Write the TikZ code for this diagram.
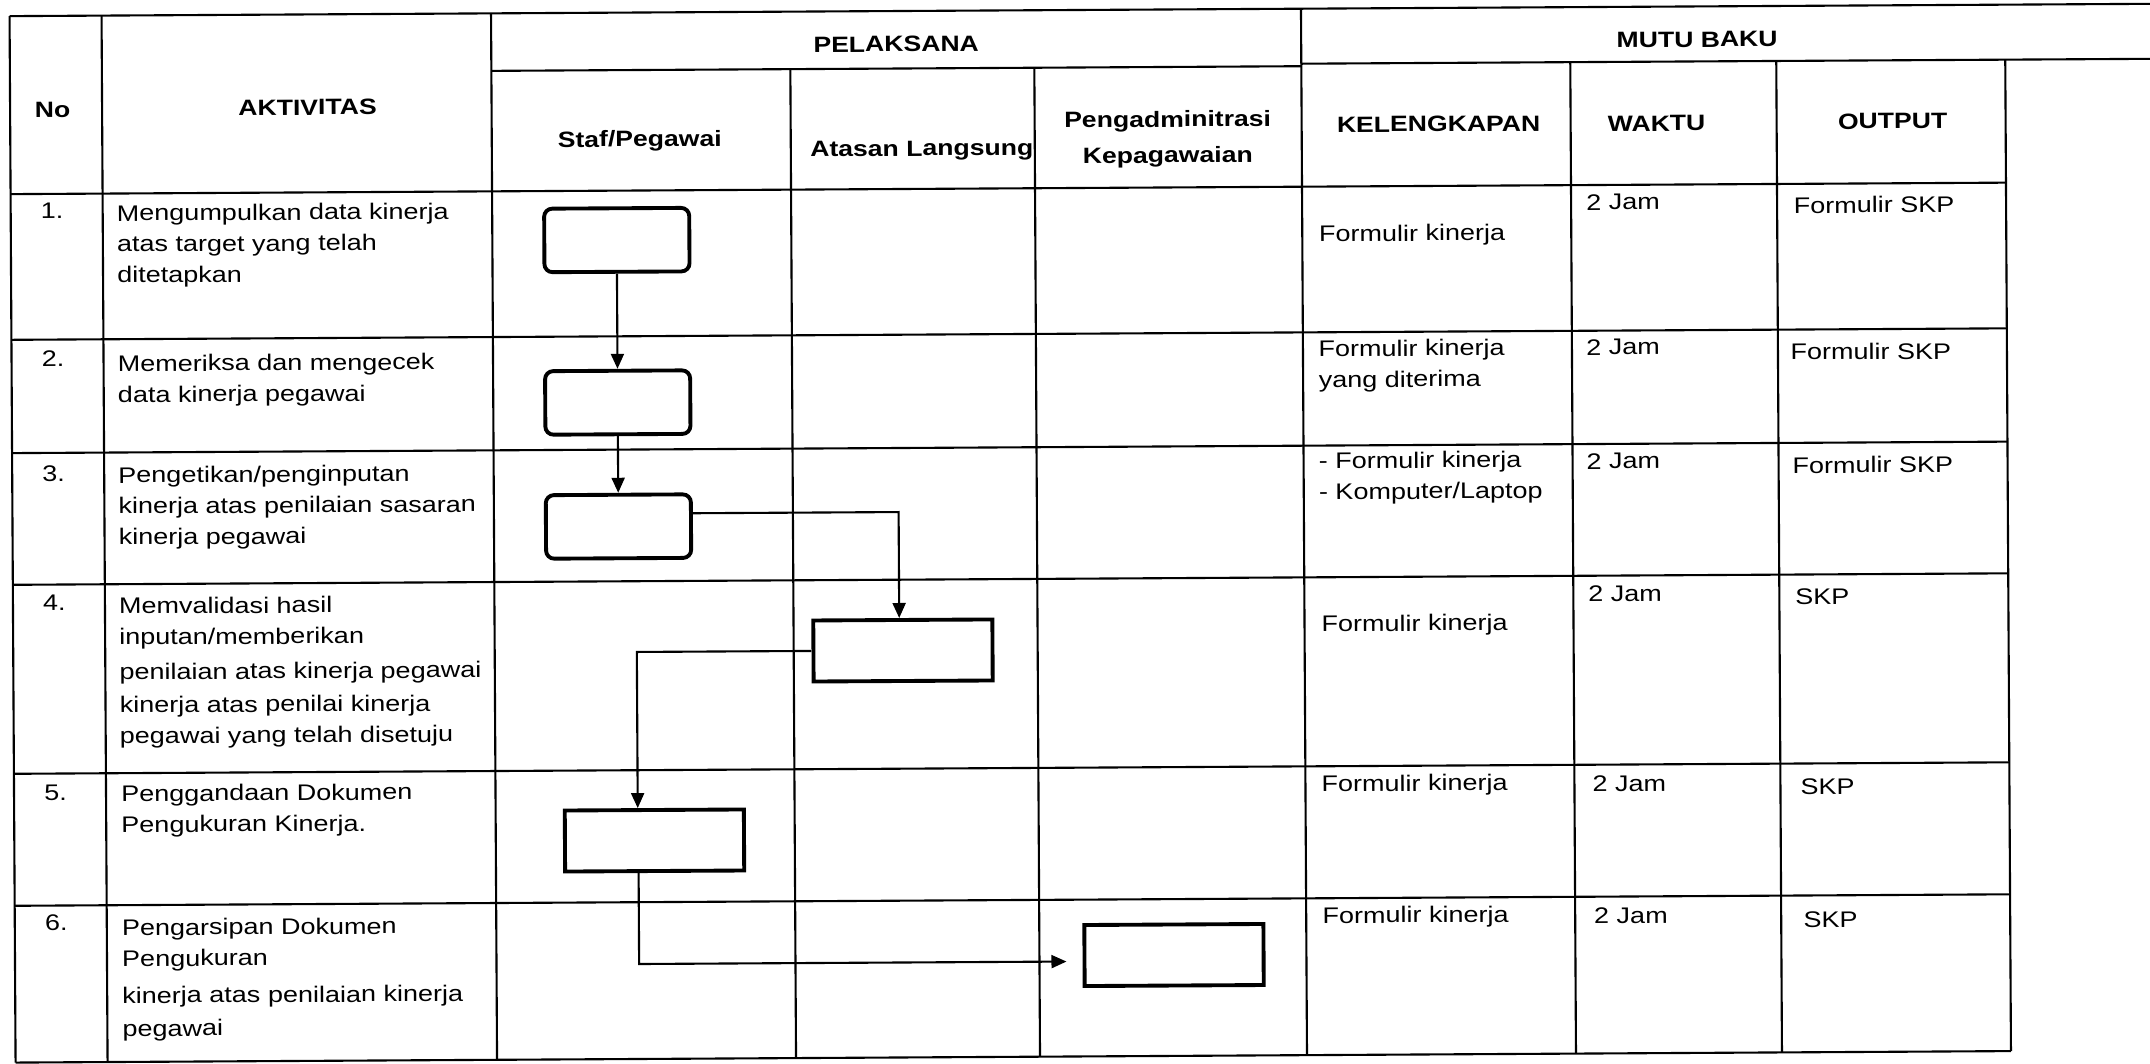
\documentclass[tikz,border=0pt]{standalone}
\usepackage{fontspec}
\setmainfont{Liberation Sans}[FakeStretch=1.2]
\usetikzlibrary{arrows.meta,calc}
\begin{document}
\begin{tikzpicture}[x=0.01cm,y=-0.01cm,
  tbl/.style={line width=0.6pt},
  conn/.style={line width=0.6pt,-{Triangle[length=0.15cm,width=0.13cm]}},
  rbox/.style={draw,line width=1.1pt,rounded corners=2.3pt,minimum width=1.45cm,minimum height=0.635cm,inner sep=0pt},
  sbox/.style={draw,line width=1.1pt,minimum width=1.79cm,minimum height=0.61cm,inner sep=0pt},
  hd/.style={font=\fontsize{6.3}{10.2}\selectfont\bfseries,inner sep=0pt,anchor=base},
  tx/.style={font=\fontsize{6.4}{8.8}\selectfont,inner sep=0pt,anchor=base west,text width=4.5cm,align=left},
  num/.style={font=\fontsize{6.4}{8.8}\selectfont,inner sep=0pt,anchor=base}]
\fill[white] (0,0) rectangle (2150,1064);
\useasboundingbox (0,0) rectangle (2150,1064);
\begin{scope}[rotate around={0.33:(1075,532)},transform shape]
% table lines
\draw[tbl] (12.5,10) -- (2160,10);
\draw[tbl] (494,67.5) -- (1304,67.5);
\draw[tbl] (1304,65) -- (2160,65);
\foreach \yy in {188,333.7,447,578.7,767.7,899.7,1056.5}
  \draw[tbl] (12.5,\yy) -- (2008,\yy);
\foreach \xx in {12.5,104.5,494,1304}
  \draw[tbl] (\xx,10) -- (\xx,1056.5);
\foreach \xx in {793,1037}
  \draw[tbl] (\xx,67.5) -- (\xx,1056.5);
\foreach \xx in {1573,1779,2008}
  \draw[tbl] (\xx,65) -- (\xx,1056.5);
% headers
\node[hd] (hno) at (55,111.5) {No};
\node[hd] (hakt) at (310,110.6) {AKTIVITAS};
\node[hd] (hpel) at (899,50.7) {PELAKSANA};
\node[hd] (hmutu) at (1700,50.6) {MUTU BAKU};
\node[hd] (hstaf) at (642,144.2) {Staf/Pegawai};
\node[hd] (hatas) at (924,155.1) {Atasan Langsung};
\node[hd,text width=3cm,align=center] (hpeng) at (1170,127.5) {Pengadminitrasi\\Kepagawaian};
\node[hd] (hkel) at (1441,133.8) {KELENGKAPAN};
\node[hd] (hwak) at (1659,134.4) {WAKTU};
\node[hd] (hout) at (1895,133.4) {OUTPUT};
% numbers
\node[num] (n1) at (54,213) {1.};
\node[num] (n2) at (54,361) {2.};
\node[num] (n3) at (54,476) {3.};
\node[num] (n4) at (54,605) {4.};
\node[num] (n5) at (54,794.5) {5.};
\node[num] (n6) at (54,925) {6.};
% activities
\node[tx] (a1) at (118,215.5) {Mengumpulkan data kinerja\\atas target yang telah\\ditetapkan};
\node[tx] (a2) at (118,366) {Memeriksa dan mengecek\\data kinerja pegawai};
\node[tx] (a3) at (118,477.5) {Pengetikan/penginputan\\kinerja atas penilaian sasaran\\kinerja pegawai};
\node[tx] (a4) at (118,608.5) {Memvalidasi hasil\\inputan/memberikan\\[1.1pt]penilaian atas kinerja pegawai\\[0.6pt]kinerja atas penilai kinerja\\pegawai yang telah disetuju};
\node[tx] (a5) at (119,796) {Penggandaan Dokumen\\Pengukuran Kinerja.};
\node[tx] (a6) at (119,930) {Pengarsipan Dokumen\\Pengukuran\\[1.7pt]kinerja atas penilaian kinerja\\[0.6pt]pegawai};
% kelengkapan
\node[tx] (k1) at (1320,243) {Formulir kinerja};
\node[tx] (k2) at (1319,358) {Formulir kinerja\\yang diterima};
\node[tx] (k3) at (1318.5,470) {- Formulir kinerja\\- Komputer/Laptop};
\node[tx] (k4) at (1320.4,633) {Formulir kinerja};
\node[tx] (k5) at (1319.5,793) {Formulir kinerja};
\node[tx] (k6) at (1319.7,924.7) {Formulir kinerja};
% waktu
\node[tx,text width=2cm] (w1) at (1587.5,213) {2 Jam};
\node[tx,text width=2cm] (w2) at (1586.6,358) {2 Jam};
\node[tx,text width=2cm] (w3) at (1586.3,472) {2 Jam};
\node[tx,text width=2cm] (w4) at (1587.2,604.7) {2 Jam};
\node[tx,text width=2cm] (w5) at (1590.5,794.7) {2 Jam};
\node[tx,text width=2cm] (w6) at (1591.3,926.3) {2 Jam};
% output
\node[tx,text width=2cm] (o1) at (1795,217.4) {Formulir SKP};
\node[tx,text width=2cm] (o2) at (1791,364) {Formulir SKP};
\node[tx,text width=2cm] (o3) at (1792.3,477.4) {Formulir SKP};
\node[tx,text width=2cm] (o4) at (1794.2,609) {SKP};
\node[tx,text width=2cm] (o5) at (1798.5,799) {SKP};
\node[tx,text width=2cm] (o6) at (1800.7,932) {SKP};
% flow boxes
\node[rbox] (b1) at (618.5,237.4) {};
\node[rbox] (b2) at (618.5,399.9) {};
\node[rbox] (b3) at (618.5,523.9) {};
\node[sbox] (b4) at (902.3,649.5) {};
\node[sbox] (b5) at (652.7,838.1) {};
\node[sbox] (b6) at (1171.6,955.6) {};
% connectors
\draw[conn] (b1) -- (b2);
\draw[conn] (b2) -- (b3);
\draw[conn] ([yshift=0.128cm]b3.east) -| ([xshift=-0.035cm]b4.north);
\draw[conn] (b4.west) -| ([xshift=-0.165cm]b5.north);
\draw[conn,shorten >=0.16cm] ([xshift=-0.16cm]b5.south) |- ([yshift=-0.06cm]b6.west);
\end{scope}
\end{tikzpicture}
\end{document}
